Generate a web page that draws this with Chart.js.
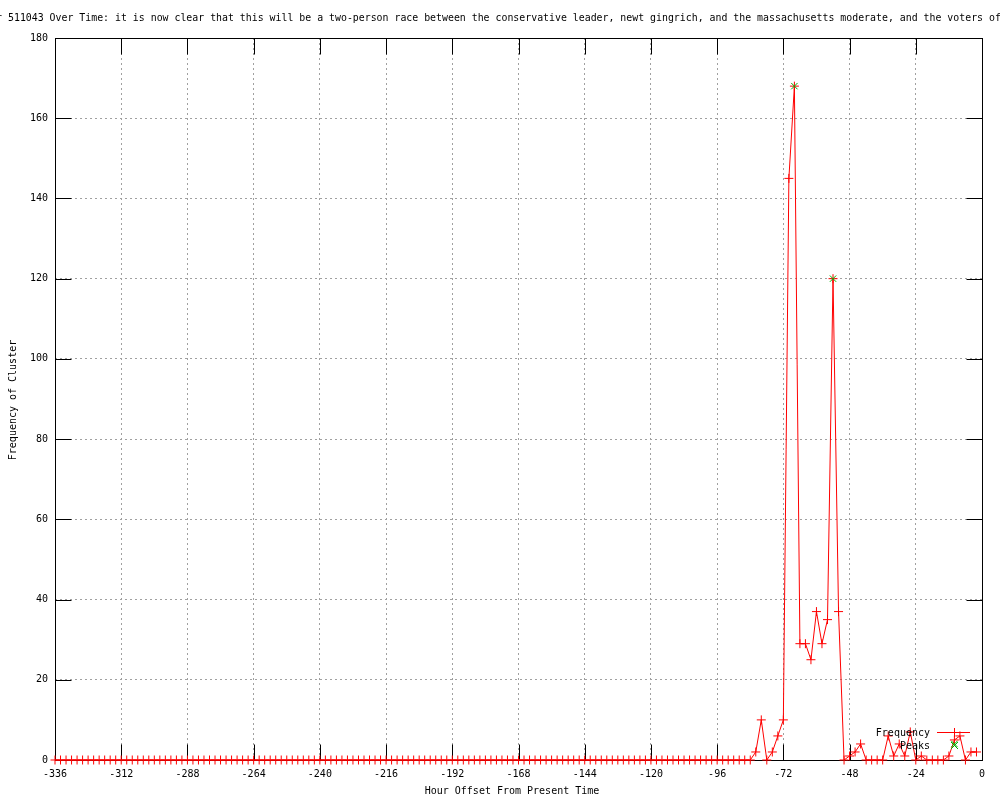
<!DOCTYPE html>
<html>
<head>
<meta charset="utf-8">
<script src="https://cdn.jsdelivr.net/npm/chart.js@4.4.1/dist/chart.umd.min.js"></script>
<style>
  body { margin: 0; background: #fff; }
  canvas { display: block; }
</style>
</head>
<body>
<canvas id="myChart" width="1000" height="800"></canvas>
<script>
// hours before now, one point every 2 hours (one row = one day)
var hours = [
  -336, -334, -332, -330, -328, -326, -324, -322, -320, -318, -316, -314,
  -312, -310, -308, -306, -304, -302, -300, -298, -296, -294, -292, -290,
  -288, -286, -284, -282, -280, -278, -276, -274, -272, -270, -268, -266,
  -264, -262, -260, -258, -256, -254, -252, -250, -248, -246, -244, -242,
  -240, -238, -236, -234, -232, -230, -228, -226, -224, -222, -220, -218,
  -216, -214, -212, -210, -208, -206, -204, -202, -200, -198, -196, -194,
  -192, -190, -188, -186, -184, -182, -180, -178, -176, -174, -172, -170,
  -168, -166, -164, -162, -160, -158, -156, -154, -152, -150, -148, -146,
  -144, -142, -140, -138, -136, -134, -132, -130, -128, -126, -124, -122,
  -120, -118, -116, -114, -112, -110, -108, -106, -104, -102, -100, -98,
  -96, -94, -92, -90, -88, -86, -84, -82, -80, -78, -76, -74,
  -72, -70, -68, -66, -64, -62, -60, -58, -56, -54, -52, -50,
  -48, -46, -44, -42, -40, -38, -36, -34, -32, -30, -28, -26,
  -24, -22, -20, -18, -16, -14, -12, -10, -8, -6, -4, -2
];
var frequency = [
  0, 0, 0, 0, 0, 0, 0, 0, 0, 0, 0, 0,
  0, 0, 0, 0, 0, 0, 0, 0, 0, 0, 0, 0,
  0, 0, 0, 0, 0, 0, 0, 0, 0, 0, 0, 0,
  0, 0, 0, 0, 0, 0, 0, 0, 0, 0, 0, 0,
  0, 0, 0, 0, 0, 0, 0, 0, 0, 0, 0, 0,
  0, 0, 0, 0, 0, 0, 0, 0, 0, 0, 0, 0,
  0, 0, 0, 0, 0, 0, 0, 0, 0, 0, 0, 0,
  0, 0, 0, 0, 0, 0, 0, 0, 0, 0, 0, 0,
  0, 0, 0, 0, 0, 0, 0, 0, 0, 0, 0, 0,
  0, 0, 0, 0, 0, 0, 0, 0, 0, 0, 0, 0,
  0, 0, 0, 0, 0, 0, 0, 2, 10, 0, 2, 6,
  10, 145, 168, 29, 29, 25, 37, 29, 35, 120, 37, 0,
  1, 2, 4, 0, 0, 0, 0, 6, 1, 4, 1, 7,
  0, 1, 0, 0, 0, 0, 1, 5, 6, 0, 2, 2
];
var peakHours = [-68, -54, -10];
var peakValues = [168, 120, 4];

var xTicks = [-336, -312, -288, -264, -240, -216, -192, -168, -144, -120, -96, -72, -48, -24, 0];
var yTicks = [0, 20, 40, 60, 80, 100, 120, 140, 160, 180];

var titleText = 'Cluster 511043 Over Time: it is now clear that this will be a two-person race between the conservative leader, newt gingrich, and the massachusetts moderate, and the voters of';
var monoFamily = '"DejaVu Sans Mono", "Liberation Mono", monospace';

// gnuplot look: border box, inward ticks, title, axis labels, key
var gnuplotFrame = {
  id: 'gnuplotFrame',
  beforeDatasetsDraw: function (chart) {
    var c = chart.ctx, a = chart.chartArea;
    var xs = chart.scales.x, ys = chart.scales.y;
    var L = Math.round(a.left) + 0.5, R = Math.round(a.right) + 0.5;
    var T = Math.round(a.top) + 0.5, B = Math.round(a.bottom) + 0.5;
    c.save();
    c.strokeStyle = '#000';
    c.lineWidth = 1;
    c.strokeRect(L, T, R - L, B - T);
    c.beginPath();
    xTicks.forEach(function (t) {
      var px = Math.round(xs.getPixelForValue(t)) + 0.5;
      c.moveTo(px, B); c.lineTo(px, B - 16);
      c.moveTo(px, T); c.lineTo(px, T + 16);
    });
    yTicks.forEach(function (t) {
      var py = Math.round(ys.getPixelForValue(t)) + 0.5;
      c.moveTo(L, py); c.lineTo(L + 16, py);
      c.moveTo(R, py); c.lineTo(R - 16, py);
    });
    c.stroke();
    c.restore();
  },
  afterDraw: function (chart) {
    var c = chart.ctx;
    c.save();
    c.fillStyle = '#000';
    c.textBaseline = 'middle';

    c.font = '9.9px ' + monoFamily;
    c.textAlign = 'left';
    var x0 = 8 - c.measureText('Cluster ').width;
    c.fillText(titleText, x0, 18);

    c.font = '10px ' + monoFamily;
    c.textAlign = 'center';
    c.fillText('Hour Offset From Present Time', 512, 791);

    c.save();
    c.translate(13, 400);
    c.rotate(-Math.PI / 2);
    c.fillText('Frequency of Cluster', 0, 0);
    c.restore();

    // key
    c.textAlign = 'right';
    c.fillText('Frequency', 930, 733);
    c.fillText('Peaks', 930, 746);
    c.strokeStyle = '#ff0000';
    c.lineWidth = 1;
    c.beginPath();
    c.moveTo(937, 732.5); c.lineTo(970, 732.5);
    c.moveTo(954.5, 728); c.lineTo(954.5, 737);
    c.stroke();
    c.strokeStyle = '#00b000';
    c.beginPath();
    c.moveTo(951, 742); c.lineTo(958, 749);
    c.moveTo(958, 742); c.lineTo(951, 749);
    c.stroke();
    c.restore();
  }
};

var ctx = document.getElementById('myChart').getContext('2d');
var myChart = new Chart(ctx, {
  type: 'line',
  data: {
    datasets: [
      {
        label: 'Frequency',
        data: hours.map(function (h, i) { return { x: h, y: frequency[i] }; }),
        order: 1,
        borderColor: '#ff0000',
        backgroundColor: '#ff0000',
        borderWidth: 1,
        tension: 0,
        pointStyle: 'cross',
        pointRadius: 4.5,
        pointBorderWidth: 1,
        pointBorderColor: '#ff0000',
        clip: false
      },
      {
        label: 'Peaks',
        data: peakHours.map(function (h, i) { return { x: h, y: peakValues[i] }; }),
        order: 0,
        showLine: false,
        borderColor: '#00b000',
        backgroundColor: '#00b000',
        pointStyle: 'crossRot',
        pointRadius: 4.5,
        pointBorderWidth: 1,
        clip: false
      }
    ]
  },
  options: {
    responsive: false,
    animation: false,
    events: [],
    layout: { padding: { left: 0, right: 18, top: 38, bottom: 0 } },
    plugins: {
      legend: { display: false },
      title: { display: false },
      tooltip: { enabled: false }
    },
    scales: {
      x: {
        type: 'linear',
        min: -336,
        max: 0,
        afterFit: function (s) { s.height = 40; },
        afterBuildTicks: function (s) { s.ticks = xTicks.map(function (v) { return { value: v }; }); },
        ticks: {
          color: '#000',
          font: { family: monoFamily, size: 10 },
          padding: 8,
          maxRotation: 0,
          autoSkip: false
        },
        grid: { color: '#a0a0a0', drawTicks: false },
        border: { display: false, dash: [2, 3] }
      },
      y: {
        min: 0,
        max: 180,
        afterFit: function (s) { s.width = 55; },
        afterBuildTicks: function (s) { s.ticks = yTicks.map(function (v) { return { value: v }; }); },
        ticks: {
          color: '#000',
          font: { family: monoFamily, size: 10 },
          padding: 7
        },
        grid: { color: '#a0a0a0', drawTicks: false },
        border: { display: false, dash: [2, 3] }
      }
    }
  },
  plugins: [gnuplotFrame]
});
</script>
</body>
</html>
